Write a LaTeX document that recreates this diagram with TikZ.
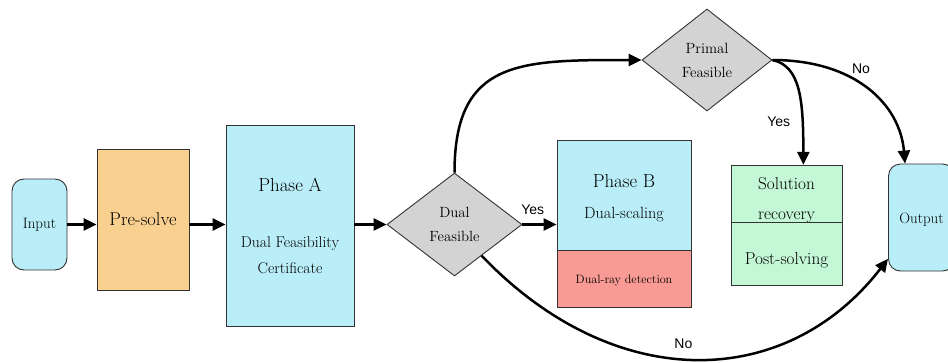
\documentclass[tikz,border=0pt]{standalone}
\usepackage{fontspec}
\setsansfont{Liberation Sans}
\usetikzlibrary{shapes.geometric,arrows.meta}

\definecolor{iocyan}{HTML}{B9EDF8}
\definecolor{preorange}{HTML}{F9D08F}
\definecolor{testgray}{HTML}{D3D3D3}
\definecolor{rayred}{HTML}{F99B94}
\definecolor{postgreen}{HTML}{C4F7D6}

\tikzset{
  box/.style={draw=black!80, line width=0.9pt, align=center, inner sep=0pt},
  io/.style={box, fill=iocyan, rounded corners=12pt, font=\fontsize{15}{24}\selectfont},
  test/.style={box, diamond, fill=testgray, font=\fontsize{14.8}{24}\selectfont},
  flow/.style={line width=2.5pt, -{Triangle[length=13pt,width=12pt]}},
  answer/.style={inner sep=1pt, font=\sffamily\fontsize{14}{16}\selectfont}
}

\begin{document}
\begin{tikzpicture}[x=1pt, y=-1pt]
\useasboundingbox (0,0) rectangle (948,362);

% Stages
\node[io, minimum width=55, minimum height=91] (input) at (39.5,224.5) {Input};
\node[box, fill=preorange, minimum width=92, minimum height=141, font=\fontsize{18.5}{24}\selectfont] (presolve) at (143,219.5) {Pre-solve};
\node[box, fill=iocyan, minimum width=128, minimum height=201, font=\fontsize{15.6}{26}\selectfont] (phaseA) at (290,225.5)
  {{\fontsize{18.9}{25}\selectfont Phase A}\\[30pt] Dual Feasibility\\ Certificate};
\node[test, minimum width=135, minimum height=103] (dual) at (454.5,224.5) {Dual\\ Feasible};
\node[box, fill=iocyan, minimum width=134, minimum height=110, font=\fontsize{16.2}{29}\selectfont] (phaseB) at (624,195)
  {\rule{0pt}{19pt}{\fontsize{18.8}{25}\selectfont Phase B}\\[2pt] Dual-scaling};
\node[box, fill=rayred, minimum width=134, minimum height=57, font=\fontsize{12.1}{16}\selectfont] (dualray) at (624,278.5) {\rule{0pt}{12.5pt}Dual-ray detection};
\node[test, minimum width=130, minimum height=102] (primal) at (707,60) {Primal\\ Feasible};
\node[box, fill=postgreen, minimum width=111, minimum height=56, font=\fontsize{17.2}{27}\selectfont] (recovery) at (786.5,194) {\rule{0pt}{24pt}Solution\\[3pt] recovery};
\node[box, fill=postgreen, minimum width=111, minimum height=63, font=\fontsize{17.2}{24}\selectfont] (postsolve) at (786.5,253.5) {\rule{0pt}{25pt}Post-solving};
\node[io, minimum width=66, minimum height=107] (output) at (921.5,217.5) {\rule{0pt}{14.5pt}Output};

% Main line
\draw[flow] (input.east) -- (input.east -| presolve.west);
\draw[flow] (presolve.east |- input.east) -- (input.east -| phaseA.west);
\draw[flow] (phaseA.east |- dual.west) -- (dual.west);
\draw[flow] (dual.east) -- (dual.east -| phaseB.west) node[answer, pos=.3, above=8pt] {Yes};

% Branches
\draw[flow] (dual.north) .. controls +(0,-113) and +(-122,0) .. (primal.west);
\draw[flow] (primal.east) .. controls +(28,6) and +(0,-65) .. (recovery.60) node[answer, pos=.75, left=10pt] {Yes};
\draw[flow] (primal.east) .. controls +(83,0) and +(-5,-59) .. (output.107) node[answer, pos=.45, above=8pt] {No};
\draw[flow] (dual.-49) .. controls +(133,139) and +(-102,132) .. (output.231) node[answer, pos=.47, above=8pt] {No};

\end{tikzpicture}
\end{document}
